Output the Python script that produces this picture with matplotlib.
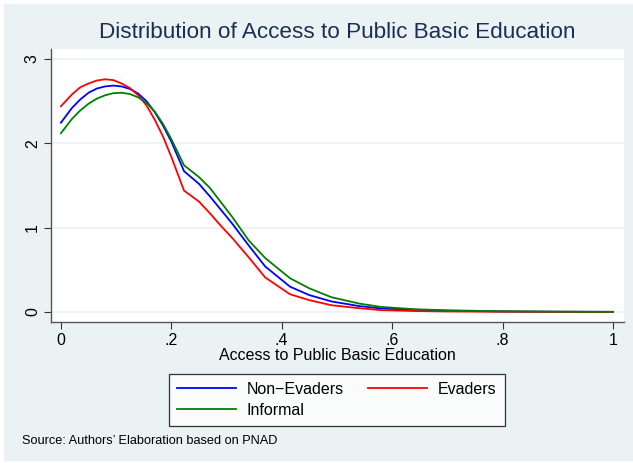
import matplotlib.pyplot as plt
from matplotlib.patches import Rectangle

plt.rcParams['font.family'] = ['Liberation Sans', 'DejaVu Sans']

# kernel density curves
x = [0, .02, .035, .05, .065, .08, .095, .11, .125, .14, .155, .17, .185,
     .20, .223, .25, .27, .29, .31, .34, .37, .415, .45, .49, .54, .58,
     .64, .70, .80, .90, 1.0]
non_evaders = [2.245, 2.42, 2.52, 2.60, 2.65, 2.675, 2.685, 2.675, 2.645,
               2.59, 2.50, 2.37, 2.21, 2.02, 1.67, 1.52, 1.37, 1.21, 1.05,
               0.79, 0.54, 0.30, 0.20, 0.125, 0.07, 0.042, 0.025, 0.014,
               0.006, 0.003, 0.001]
evaders = [2.44, 2.58, 2.665, 2.71, 2.745, 2.76, 2.75, 2.71, 2.655, 2.57,
           2.45, 2.28, 2.08, 1.84, 1.44, 1.31, 1.17, 1.02, 0.88, 0.65, 0.41,
           0.21, 0.14, 0.08, 0.045, 0.022, 0.011, 0.006, 0.003, 0.001, 0.0005]
informal = [2.12, 2.29, 2.39, 2.47, 2.53, 2.57, 2.595, 2.60, 2.585, 2.545,
            2.48, 2.375, 2.23, 2.05, 1.74, 1.60, 1.47, 1.30, 1.13, 0.85,
            0.64, 0.40, 0.28, 0.175, 0.10, 0.06, 0.033, 0.02, 0.008, 0.004,
            0.002]

xticks = [0, .2, .4, .6, .8, 1]
xticklabels = ['0', '.2', '.4', '.6', '.8', '1']
yticks = [0, 1, 2, 3]

bg = '#eaf2f3'
W, H = 633, 463
fig = plt.figure(figsize=(W / 100, H / 100), dpi=100)
fig.patch.set_facecolor('white')
fig.patches.append(Rectangle((4 / W, 2 / H), (W - 4) / W, (461 - 4) / H,
                             transform=fig.transFigure, facecolor=bg,
                             edgecolor='none', zorder=-10))

ax = fig.add_axes([51 / W, (H - 322) / H, (624 - 51) / W, (322 - 49) / H])
ax.set_facecolor('white')

l1, = ax.plot(x, non_evaders, color='#0000ff', lw=1.3, label='Non\u2212Evaders')
l2, = ax.plot(x, evaders, color='#ff0000', lw=1.3, label='Evaders')
l3, = ax.plot(x, informal, color='#008000', lw=1.3, label='Informal')

ax.set_xlim(-0.018, 1.02)
ax.set_ylim(-0.119, 3.119)
ax.set_xticks(xticks)
ax.set_xticklabels(xticklabels)
ax.set_yticks(yticks)
ax.set_yticklabels([str(t) for t in yticks], rotation=90, va='center')
ax.tick_params(axis='both', direction='out', length=5, width=0.8,
               color='#333333', labelsize=11.5, pad=3)
ax.grid(axis='y', color=bg, lw=1.2)
ax.set_axisbelow(True)
for s in ['top', 'right']:
    ax.spines[s].set_visible(False)
for s in ['left', 'bottom']:
    ax.spines[s].set_color('#555555')
    ax.spines[s].set_linewidth(1.0)

fig.text(337 / W, (H - 32) / H, 'Distribution of Access to Public Basic Education',
         ha='center', va='center', fontsize=16.2, color='#1e2d53')
fig.text(337 / W, (H - 355) / H, 'Access to Public Basic Education',
         ha='center', va='center', fontsize=11.5)

leg = fig.legend([l1, l3, l2], ['Non\u2212Evaders', 'Informal', 'Evaders'],
                 ncol=2, loc='upper left',
                 bbox_to_anchor=(169 / W, (H - 374) / H),
                 fontsize=11.5, handlelength=3.69, handletextpad=0.69,
                 columnspacing=1.5, labelspacing=0.38, borderpad=0.5,
                 borderaxespad=0, fancybox=False, frameon=True)
leg.get_frame().set_edgecolor('black')
leg.get_frame().set_linewidth(0.9)
leg.get_frame().set_facecolor('white')

fig.text(22 / W, (H - 441) / H, 'Source: Authors\u2019 Elaboration based on PNAD',
         ha='left', va='center', fontsize=9.2)

fig.savefig('out.png', dpi=100)
